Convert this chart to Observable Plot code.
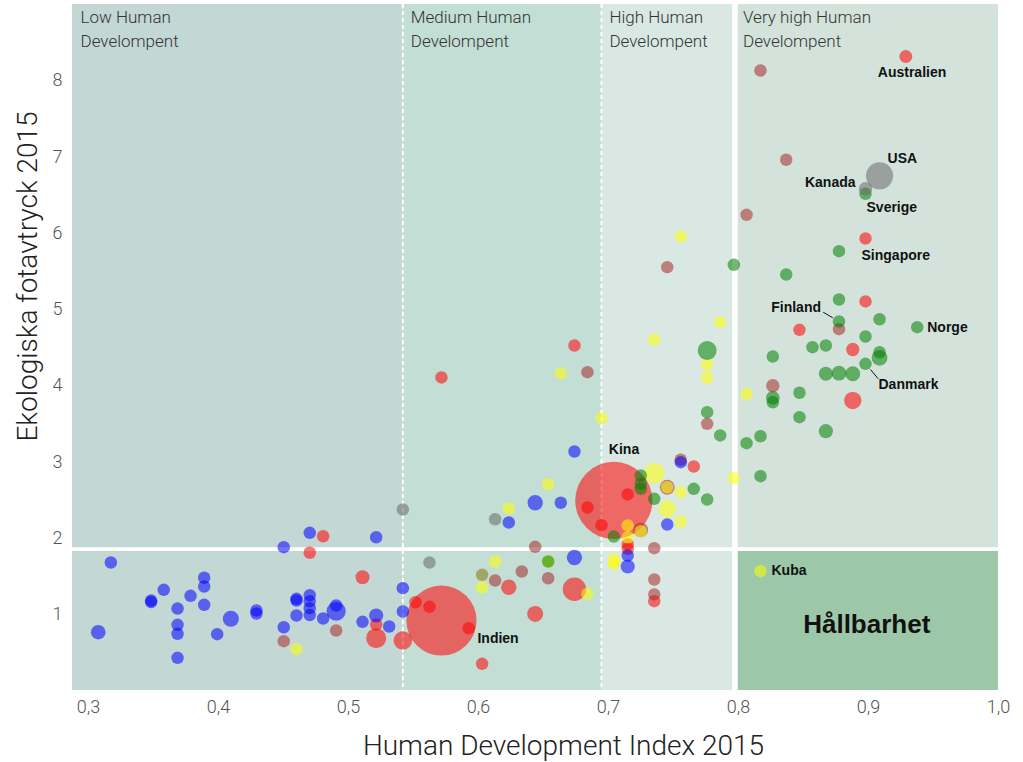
<!DOCTYPE html>
<html><head><meta charset="utf-8">
<script src="https://cdn.jsdelivr.net/npm/d3@7"></script>
<script src="https://cdn.jsdelivr.net/npm/@observablehq/plot@0.6"></script>
<style>body{margin:0;background:#fff}#chart svg{display:block}</style>
</head><body><div id="chart"></div>
<script>
// categories and colours
const categories = ["Asien", "Arabstater", "Afrika", "Latinamerika", "Europa", "Nordamerika"];
const categoryColors = ["#ff0000", "#a52a2a", "#0000ff", "#ffff00", "#008000", "#696969"];

// [HDI 2015, ekologiskt fotavtryck 2015, befolkning (milj.), namn]
const asien = [
  [0.4805,2.024,10],[0.4702,1.807,10],[0.5108,1.486,42],[0.5213,0.866,10],[0.5213,0.686,170],
  [0.5418,0.656,140],[0.5515,1.158,10],[0.5623,1.098,10],[0.5715,0.918,1225,"Indien"],
  [0.5925,0.817,10],[0.5715,4.107,10],[0.6028,0.350,10],[0.6233,1.355,70],[0.6436,1.005,84],
  [0.6738,1.329,240],[0.6738,4.526,10],[0.7041,2.493,1375,"Kina"],[0.7148,2.572,10],
  [0.6838,2.401,10],[0.6946,2.169,10],[0.7148,1.916,10],[0.7148,1.859,10],[0.7352,1.172,10],
  [0.7656,2.939,10],[0.8469,4.732,10],[0.8977,5.104,10],[0.8879,4.474,28],[0.8879,3.805,113],
  [0.9287,8.318,20,"Australien"],[0.8977,5.930,10,"Singapore"]
];
const arabstater = [
  [0.4502,0.647,10],[0.4905,0.787,10],[0.6436,1.885,10],[0.6333,1.561,10],[0.6128,1.443,10],
  [0.6536,1.473,10],[0.6838,4.176,10],[0.7452,5.554,10],[0.7556,3.027,10],[0.7452,2.667,60],
  [0.7248,2.108,60],[0.7352,1.867,10],[0.7352,1.456,10],[0.7352,1.260,10],[0.7759,3.499,10],
  [0.8264,3.998,30],[0.8773,4.740,10],[0.8062,6.241,10],[0.8367,6.963,10],[0.8169,8.134,10]
];
const afrika = [
  [0.3172,1.679,10],[0.3075,0.765,55],[0.3482,1.18,10],[0.3482,1.16,10],[0.3579,1.321,10],
  [0.3685,1.076,10],[0.3685,0.862,10],[0.3685,0.744,10],[0.3685,0.429,10],[0.3785,1.242,10],
  [0.3890,1.479,10],[0.3890,1.364,10],[0.3890,1.124,10],[0.3990,0.739,10],[0.4095,0.941,85],
  [0.4292,1.05,10],[0.4292,1.01,10],[0.4502,0.830,10],[0.4502,1.880,10],[0.4600,1.203,10],
  [0.4600,1.181,10],[0.4600,0.984,10],[0.4702,2.069,10],[0.4702,1.25,10],[0.4702,1.17,10],
  [0.4702,1.08,10],[0.4702,0.99,10],[0.4805,0.945,10],[0.4905,1.115,10],[0.4905,1.040,150],
  [0.5108,0.901,10],[0.5213,2.011,10],[0.5213,0.984,45],[0.5313,0.840,10],[0.5418,1.342,10],
  [0.5418,1.036,10],[0.6436,2.463,70],[0.6633,2.463,10],[0.6233,2.204,10],[0.6738,3.136,10],
  [0.6738,1.745,70],[0.7556,2.995,10],[0.7452,2.178,10],[0.7148,1.771,10],[0.7148,1.627,45]
];
const latinamerika = [
  [0.4600,0.542,10],[0.6028,1.518,10],[0.6028,1.351,10],[0.6128,1.692,10],[0.6233,2.388,10],
  [0.6536,2.707,10],[0.6536,1.692,10],[0.6838,1.269,10],[0.6633,4.163,10],[0.6946,3.573,10],
  [0.7041,1.72,20],[0.7041,1.66,10],[0.7148,2.165,10],[0.7148,2.011,10],[0.7248,2.09,10],
  [0.7352,2.851,180],[0.7452,2.667,10],[0.7556,2.602,10],[0.7452,2.384,113],[0.7556,2.217,10],
  [0.7964,2.785,10],[0.7352,4.601,10],[0.7556,5.956,10],[0.7859,4.832,10],[0.7759,4.277,10],
  [0.7759,4.103,10],[0.8062,3.893,10],[0.8169,1.565,10,"Kuba"]
];
const europa = [
  [0.6536,1.692,10],[0.7041,2.020,10],[0.7248,2.821,10],[0.7248,2.712,10],[0.7248,2.646,10],
  [0.7352,2.515,10],[0.7656,2.646,10],[0.7759,2.506,10],[0.7759,3.651,10],[0.7859,3.346,10],
  [0.8062,3.245,10],[0.8169,3.336,10],[0.8169,2.812,10],[0.7759,4.461,145],[0.7964,5.585,10],
  [0.8367,5.458,10],[0.8264,4.382,10],[0.8264,3.840,38],[0.8264,3.782,10],[0.8469,3.906,10],
  [0.8469,3.586,10],[0.8569,4.504,10],[0.8672,4.526,10],[0.8672,4.155,45],[0.8773,4.163,60],
  [0.8879,4.155,60],[0.8672,3.402,45],[0.8773,5.130,10],[0.8773,4.841,10,"Finland"],
  [0.8773,5.764,10],[0.8977,4.644,10],[0.8977,4.286,10,"Danmark"],[0.9085,4.871,10],
  [0.9085,4.438,10],[0.9085,4.365,80],[0.9375,4.767,10,"Norge"],[0.8977,6.517,10,"Sverige"]
];
const nordamerika = [
  [0.5418,2.375,10],[0.5623,1.679,10],[0.6128,2.247,10],[0.6028,1.518,10],
  [0.9085,6.753,320,"USA"],[0.8977,6.582,30,"Kanada"]
];

// zones (HDI groups)
const zoneLabels = ["Low Human\nDevelompent", "Medium Human\nDevelompent", "High Human\nDevelompent", "Very high Human\nDevelompent"];
const zoneStarts = [0.2877, 0.5418, 0.6946, 0.7973];
const zoneEnds = [0.5418, 0.6946, 0.7973, 1.0];
const zoneFills = ["#c3d7d5", "#c2ded5", "#d9e8e2", "#d3e3dc"];
const dashedBreaks = [0.5418, 0.6946];
const solidBreak = [0.7973];
const biocapacity = [1.856];
const hallbarhet = [{x1: 0.7973, x2: 1.0, y1: 0, y2: 1.856, label: "Hållbarhet"}];
const xTicks = [0.3, 0.4, 0.5, 0.6, 0.7, 0.8, 0.9, 1.0];
const yTicks = [1, 2, 3, 4, 5, 6, 7, 8];
const xDomain = [0.2877, 1.0];
const yDomain = [0, 9];

// country labels
const labels = [
  {name: "Australien", anchor: "start", dx: -28, dy: 16},
  {name: "USA", anchor: "start", dx: 8, dy: -17},
  {name: "Kanada", anchor: "end", dx: -10, dy: -6},
  {name: "Sverige", anchor: "start", dx: 1, dy: 14},
  {name: "Singapore", anchor: "start", dx: -4, dy: 17},
  {name: "Finland", anchor: "end", dx: -18, dy: -14},
  {name: "Norge", anchor: "start", dx: 10, dy: 0},
  {name: "Danmark", anchor: "start", dx: 13, dy: 21},
  {name: "Kuba", anchor: "start", dx: 11, dy: -1},
  {name: "Kina", anchor: "start", dx: -5, dy: -51},
  {name: "Indien", anchor: "start", dx: 36, dy: 18}
];
const leaders = [
  {name: "Finland", from: [-15.8, -9.3], to: [-6.2, -3.7]},
  {name: "Danmark", from: [5, 5.7], to: [12.7, 15]}
];

const W = 1023, H = 762, mL = 72, mR = 25, mT = 4, mB = 72;
const pxX = (W - mL - mR) / (xDomain[1] - xDomain[0]);
const pxY = (H - mT - mB) / (yDomain[1] - yDomain[0]);

const groups = {Asien: asien, Arabstater: arabstater, Afrika: afrika, Latinamerika: latinamerika, Europa: europa, Nordamerika: nordamerika};
const points = categories.flatMap(c => groups[c].map(([hdi, ef, pop, name]) => ({hdi, ef, pop, name, region: c})));
const byName = new Map(points.filter(d => d.name).map(d => [d.name, d]));
const zones = zoneLabels.map((label, i) => ({label, x1: zoneStarts[i], x2: zoneEnds[i], y1: yDomain[0], y2: yDomain[1], fill: zoneFills[i]}));

const labelFont = "'Liberation Sans', Arial, sans-serif";
const lightFont = "Roboto, 'Liberation Sans', sans-serif";

const marks = [
  ...zones.map(z => Plot.rect([z], {x1: "x1", x2: "x2", y1: "y1", y2: "y2", fill: z.fill})),
  Plot.rect(hallbarhet, {x1: "x1", x2: "x2", y1: "y1", y2: "y2", fill: "#9cc8a9"}),
  Plot.ruleX(dashedBreaks, {stroke: "white", strokeWidth: 2, strokeDasharray: "4,3"}),
  Plot.ruleX(solidBreak, {stroke: "white", strokeWidth: 5.5}),
  Plot.ruleY(biocapacity, {stroke: "white", strokeWidth: 3.7}),
  Plot.text(zones, {x: "x1", frameAnchor: "top", text: "label", textAnchor: "start", lineAnchor: "top",
    dx: 8, dy: 2, lineHeight: 1.376, fontSize: 17, fontWeight: 300, fill: "#333", fontFamily: lightFont}),
  Plot.text(hallbarhet, {x: d => (d.x1 + d.x2) / 2, y: d => (d.y1 + d.y2) / 2, text: "label", dy: 5,
    fontSize: 26, fontWeight: "bold", fill: "#111", fontFamily: labelFont}),
  Plot.dot(points, {x: "hdi", y: "ef", r: "pop", fill: "region", fillOpacity: 0.55, stroke: "none", sort: null}),
  ...leaders.map(l => {
    const p = byName.get(l.name);
    return Plot.link([p], {
      x1: d => d.hdi + l.from[0] / pxX, y1: d => d.ef - l.from[1] / pxY,
      x2: d => d.hdi + l.to[0] / pxX, y2: d => d.ef - l.to[1] / pxY,
      stroke: "#111", strokeWidth: 1
    });
  }),
  ...labels.map(l => Plot.text([byName.get(l.name)], {
    x: "hdi", y: "ef", text: "name", textAnchor: l.anchor, dx: l.dx, dy: l.dy,
    fontSize: 14, fontWeight: "bold", fill: "#111", fontFamily: labelFont
  })),
  Plot.text(["Human Development Index 2015"], {frameAnchor: "bottom", textAnchor: "middle", lineAnchor: "middle",
    dx: 28, dy: 56, fontSize: 28, fontWeight: 300, fill: "#222", fontFamily: lightFont}),
  Plot.text(["Ekologiska fotavtryck 2015"], {frameAnchor: "left", textAnchor: "middle", lineAnchor: "middle",
    rotate: -90, dx: -44, dy: -71, fontSize: 28, fontWeight: 300, fill: "#222", fontFamily: lightFont})
];

const chart = Plot.plot({
  width: W, height: H,
  marginLeft: mL, marginRight: mR, marginTop: mT, marginBottom: mB,
  style: {fontFamily: lightFont, fontSize: "18px", fontWeight: 300, color: "#555", background: "white", overflow: "visible"},
  x: {domain: xDomain, ticks: xTicks, tickFormat: d => d.toFixed(1).replace(".", ","), tickSize: 0, tickPadding: 10, label: null},
  y: {domain: yDomain, ticks: yTicks, tickFormat: d => String(d), tickSize: 0, tickPadding: 10, label: null},
  r: {type: "linear", domain: [0, 1370], range: [6, 38.5]},
  color: {domain: categories, range: categoryColors},
  marks
});
document.getElementById("chart").appendChild(chart);
</script>
</body></html>
